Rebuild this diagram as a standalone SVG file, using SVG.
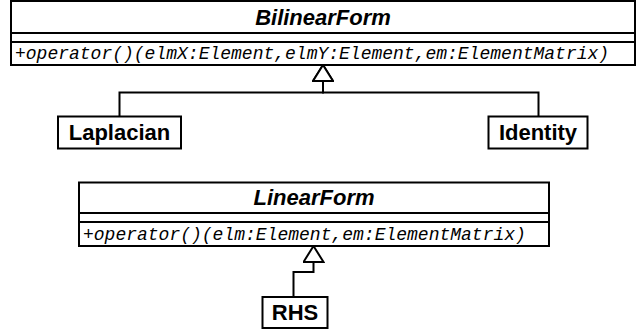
<svg xmlns="http://www.w3.org/2000/svg" width="640" height="329" viewBox="0 0 640 329">
<style>
.box{fill:#fff;stroke:#000;stroke-width:2}
.sep{stroke:#000;stroke-width:2}
.title{font-family:"Liberation Sans",Arial,Helvetica,sans-serif;font-weight:bold;font-style:italic;font-size:22px;text-anchor:middle;fill:#000}
.name{font-family:"Liberation Sans",Arial,Helvetica,sans-serif;font-weight:bold;font-size:22px;text-anchor:middle;fill:#000}
.op{font-family:"Liberation Mono","Courier New",monospace;font-style:italic;font-size:18px;fill:#000}
.conn{fill:none;stroke:#000;stroke-width:2}
</style>
<defs>
<marker id="gen" markerUnits="userSpaceOnUse" markerWidth="18" markerHeight="22" viewBox="-1 -1 18 22" refX="16" refY="10" orient="auto">
<path d="M0,0 L16,10 L0,20 Z" fill="#fff" stroke="#000" stroke-width="2"/>
</marker>
</defs>
<g id="connectors">
<path class="conn" d="M119.5,116 V92.5 H323 V65" marker-end="url(#gen)"/>
<path class="conn" d="M538.5,116 V92.5 H323 V65" marker-end="url(#gen)"/>
<path class="conn" d="M293.5,297 V272 H313.5 V246" marker-end="url(#gen)"/>
</g>
<g id="BilinearForm">
<rect class="box" x="11" y="1" width="624" height="64"/>
<line class="sep" x1="11" y1="33" x2="635" y2="33"/>
<line class="sep" x1="11" y1="42" x2="635" y2="42"/>
<text class="title" x="323" y="24.5">BilinearForm</text>
<text class="op" x="15" y="59">+operator()(elmX:Element,elmY:Element,em:ElementMatrix)</text>
</g>
<g id="Laplacian">
<rect class="box" x="58" y="116.5" width="123" height="32"/>
<text class="name" x="119.5" y="139.5">Laplacian</text>
</g>
<g id="Identity">
<rect class="box" x="488.5" y="116.5" width="99" height="32"/>
<text class="name" x="538" y="139.5">Identity</text>
</g>
<g id="LinearForm">
<rect class="box" x="79" y="182.5" width="470" height="63.5"/>
<line class="sep" x1="79" y1="213" x2="549" y2="213"/>
<line class="sep" x1="79" y1="222" x2="549" y2="222"/>
<text class="title" x="314" y="205">LinearForm</text>
<text class="op" x="83" y="240">+operator()(elm:Element,em:ElementMatrix)</text>
</g>
<g id="RHS">
<rect class="box" x="262.5" y="297" width="65" height="31"/>
<text class="name" x="295" y="319.5">RHS</text>
</g>
</svg>
